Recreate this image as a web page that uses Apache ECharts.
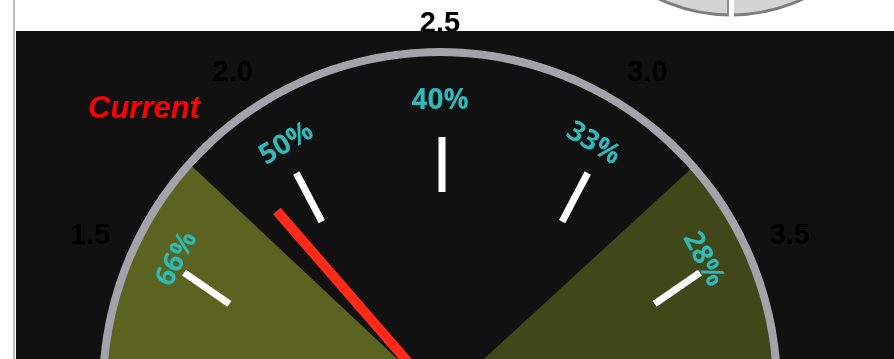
<!DOCTYPE html>
<html>
<head>
<meta charset="utf-8">
<script src="https://cdn.jsdelivr.net/npm/echarts@6/dist/echarts.min.js"></script>
<style>
  html, body { margin: 0; padding: 0; background: #ffffff; }
  #chart { width: 894px; height: 359px; }
</style>
</head>
<body>
<div id="chart"></div>
<script>
// Dial scale: values shown around the rim and the matching percentages inside
const scaleValues = [1.5, 2.0, 2.5, 3.0, 3.5];
const scaleLabels = ['1.5', '2.0', '2.5', '3.0', '3.5'];
const percentLabels = ['66%', '50%', '40%', '33%', '28%'];
// Zone limits: below the first and above the second are shaded
const bandLimits = [1.78, 3.23];
// Needle reading
const currentValue = [1.87];
const currentTitle = 'Current';

const dialMin = 1.0;
const dialMax = 4.0;
const startAngle = 187.5;
const endAngle = -7.5;
const faceCenter = [440, 399];
const rimCenter = [440, 389];
const markCenter = [442, 450];
const topLabel = '2.5';

const frac = v => (v - dialMin) / (dialMax - dialMin);

function labelFor(list, keep) {
  return function (v) {
    const i = scaleValues.findIndex(s => Math.abs(s - v) < 1e-6);
    if (i < 0) return '';
    return keep(list[i]) ? list[i] : '';
  };
}

const base = {
  type: 'gauge',
  center: faceCenter,
  min: dialMin,
  max: dialMax,
  startAngle: startAngle,
  endAngle: endAngle,
  splitNumber: 6,
  animation: false,
  silent: true,
  axisLine: { show: false, lineStyle: { width: 0 } },
  axisTick: { show: false },
  splitLine: { show: false, length: 0, distance: 0 },
  axisLabel: { show: false },
  pointer: { show: false },
  anchor: { show: false },
  title: { show: false },
  detail: { show: false },
  data: []
};

const scaleFont = {
  show: true, distance: 0, rotate: 0.001,
  color: '#000000', fontSize: 29, fontWeight: 'bold',
  fontFamily: 'Arial, "Liberation Sans", sans-serif'
};

const chart = echarts.init(document.getElementById('chart'), null, { renderer: 'canvas' });

chart.setOption({
  backgroundColor: '#ffffff',
  graphic: [
    // Page frame line and dark panel
    { type: 'rect', shape: { x: 13, y: 0, width: 2, height: 359 }, style: { fill: '#bdbdbd' }, z: 0 },
    { type: 'rect', shape: { x: 16, y: 31, width: 878, height: 328 }, style: { fill: '#111111' }, z: 0 },
    // Neighbouring dial peeking in at the top
    { type: 'circle', shape: { cx: 731, cy: -154, r: 169 }, style: { fill: '#d4d4d4', stroke: '#7d7d7d', lineWidth: 3 }, z: 0 },
    { type: 'rect', shape: { x: 729, y: 0, width: 5, height: 20 }, style: { fill: '#ffffff' }, z: 1 },
    { type: 'rect', shape: { x: 727, y: 0, width: 2, height: 16 }, style: { fill: '#8a8a8a' }, z: 1 },
    {
      type: 'text', x: 144, y: 109, z: 5,
      style: {
        text: currentTitle, fill: '#ff0000',
        font: 'italic bold 31px Arial, "Liberation Sans", sans-serif',
        align: 'center', verticalAlign: 'middle'
      }
    }
  ],
  series: [
    // Shaded zones filling the dial face
    Object.assign({}, base, {
      radius: 342,
      axisLine: {
        show: true,
        lineStyle: {
          width: 342,
          color: [
            [frac(bandLimits[0]), '#5a6420'],
            [frac(bandLimits[1]), '#111111'],
            [1, '#404719']
          ]
        }
      }
    }),
    // Grey rim
    Object.assign({}, base, {
      center: rimCenter,
      radius: 341,
      axisLine: { show: true, lineStyle: { width: 8, color: [[1, '#a2a4a9']] } }
    }),
    // White scale marks, fanned from a lower pivot
    Object.assign({}, base, {
      center: markCenter,
      radius: 313,
      startAngle: 173.25,
      endAngle: 6.75,
      splitLine: { show: true, length: 55, distance: 0, lineStyle: { width: 7, color: '#ffffff', cap: 'butt' } }
    }),
    // Percent labels along the inside, set on a slightly tighter arc
    Object.assign({}, base, {
      radius: 298,
      startAngle: 183,
      endAngle: -3,
      axisLabel: {
        show: true, distance: 0, rotate: 'tangential',
        color: '#2fb9b9', fontSize: 28, fontWeight: 'bold',
        fontFamily: '"Open Sans", Arial, sans-serif',
        formatter: labelFor(percentLabels, () => true)
      }
    }),
    // Scale values outside the rim: the top one sits a little lower
    Object.assign({}, base, {
      radius: 375,
      axisLabel: Object.assign({}, scaleFont, { formatter: labelFor(scaleLabels, t => t === topLabel) })
    }),
    Object.assign({}, base, {
      radius: 386,
      axisLabel: Object.assign({}, scaleFont, { formatter: labelFor(scaleLabels, t => t !== topLabel) })
    }),
    // Needle
    Object.assign({}, base, {
      radius: 342,
      pointer: {
        show: true, icon: 'rect', length: 249, width: 10,
        itemStyle: { color: '#ff2a1a' }
      },
      data: currentValue.map(v => ({ value: v }))
    })
  ]
});
</script>
</body>
</html>
